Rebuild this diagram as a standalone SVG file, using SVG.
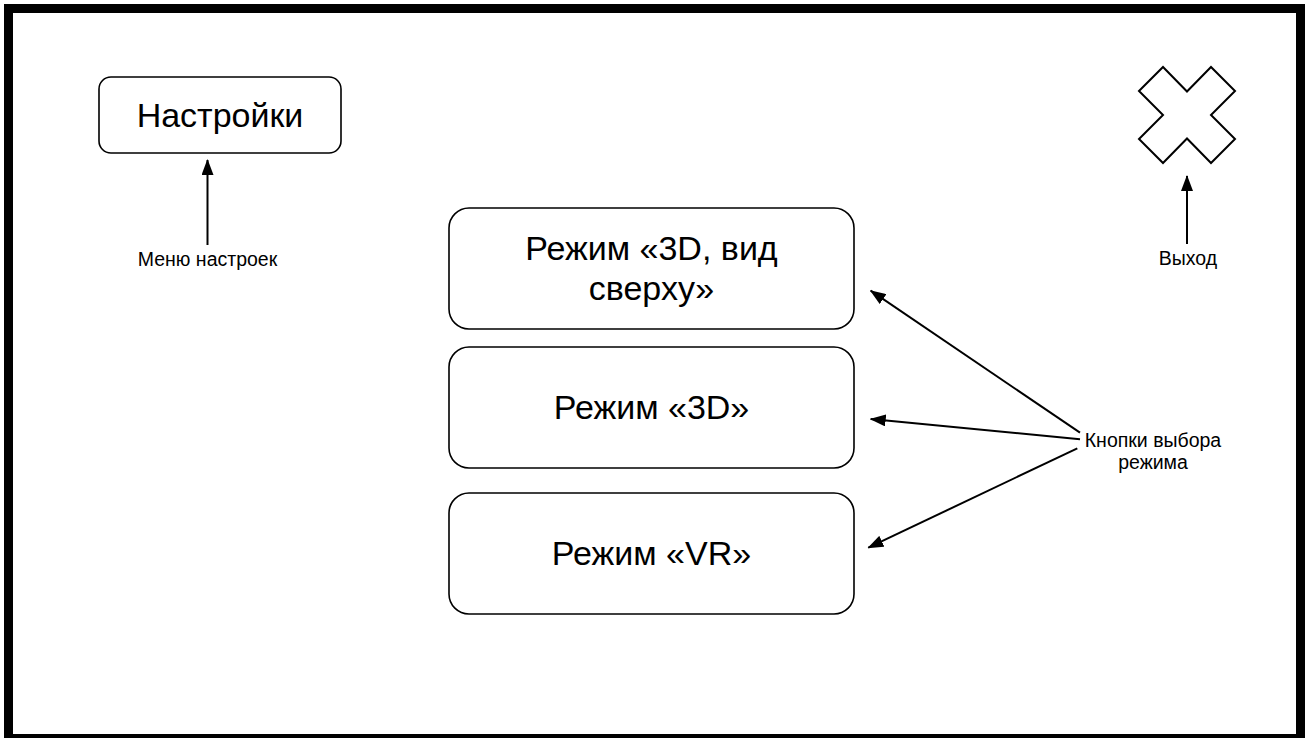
<svg xmlns="http://www.w3.org/2000/svg" width="1310" height="738" viewBox="0 0 1310 738">
<style>
.box{fill:#fff;stroke:#000;stroke-width:1.6}
.big{font-family:"Liberation Sans",Arial,sans-serif;font-size:34px;fill:#000;text-anchor:middle}
.small{font-family:"Liberation Sans",Arial,sans-serif;font-size:19.5px;fill:#000;text-anchor:middle}
.edge{stroke:#000;stroke-width:2;fill:none;marker-end:url(#arr)}
</style>
<defs>
<marker id="arr" markerWidth="16" markerHeight="12" refX="15" refY="6" orient="auto" markerUnits="userSpaceOnUse">
<path d="M0,0 L16,6 L0,12 z" fill="#000"/>
</marker>
</defs>
<rect x="0" y="0" width="1310" height="738" fill="#fff"/>
<rect id="frame" x="8.5" y="8.5" width="1292" height="730" fill="none" stroke="#000" stroke-width="9"/>
<g id="settings">
<rect class="box" x="99" y="77" width="242" height="76" rx="12"/>
<text class="big" x="220" y="127">Настройки</text>
</g>
<g id="exit">
<polygon points="1139,91 1163,67 1187,91.5 1211,67 1235,91 1211,115 1235,139 1211,163 1187,138.5 1163,163 1139,139 1163,115" fill="#fff" stroke="#000" stroke-width="2" stroke-linejoin="miter"/>
</g>
<g id="mode-top">
<rect class="box" x="449" y="208" width="405" height="121" rx="20"/>
<text class="big" x="651.5" y="260">Режим «3D, вид</text>
<text class="big" x="651.5" y="300">сверху»</text>
</g>
<g id="mode-3d">
<rect class="box" x="449" y="347" width="405" height="121" rx="20"/>
<text class="big" x="651.5" y="419">Режим «3D»</text>
</g>
<g id="mode-vr">
<rect class="box" x="449" y="493" width="405" height="121" rx="20"/>
<text class="big" x="651.5" y="565">Режим «VR»</text>
</g>
<g id="label-settings">
<text class="small" x="207.5" y="266">Меню настроек</text>
</g>
<g id="label-exit">
<text class="small" x="1188" y="265">Выход</text>
</g>
<g id="label-modes">
<text class="small" x="1153" y="447">Кнопки выбора</text>
<text class="small" x="1153" y="469">режима</text>
</g>
<g id="connectors">
<line class="edge" x1="207.5" y1="245" x2="207.5" y2="160"/>
<line class="edge" x1="1187" y1="244" x2="1187" y2="176"/>
<line class="edge" x1="1080" y1="432.7" x2="870.7" y2="290.7"/>
<line class="edge" x1="1080" y1="439.3" x2="870.7" y2="419"/>
<line class="edge" x1="1077.3" y1="448.3" x2="868.3" y2="547.7"/>
</g>
</svg>
